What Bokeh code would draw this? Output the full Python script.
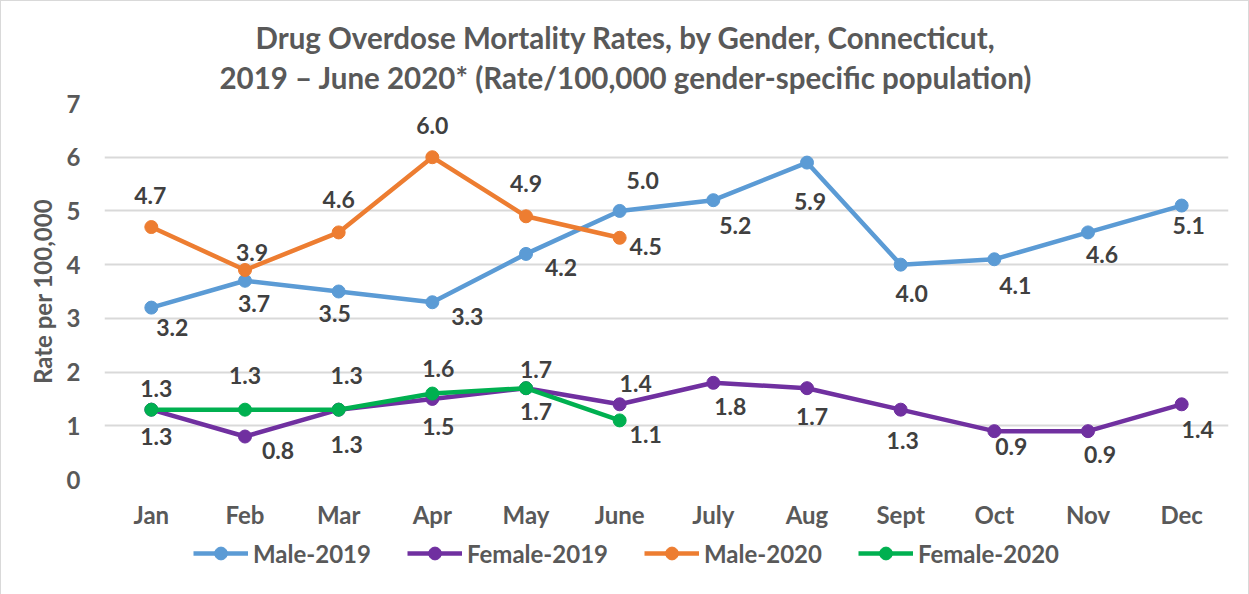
from bokeh.plotting import figure
from bokeh.layouts import column
from bokeh.models import (ColumnDataSource, FactorRange, Range1d, FixedTicker,
                          Legend, LegendItem, Title)
from bokeh.core.properties import value
from bokeh.embed import file_html
from bokeh.resources import INLINE

# ---------------- data ----------------
months = ["Jan", "Feb", "Mar", "Apr", "May", "June", "July", "Aug", "Sept", "Oct", "Nov", "Dec"]
male_2019 = [3.2, 3.7, 3.5, 3.3, 4.2, 5.0, 5.2, 5.9, 4.0, 4.1, 4.6, 5.1]
female_2019 = [1.3, 0.8, 1.3, 1.5, 1.7, 1.4, 1.8, 1.7, 1.3, 0.9, 0.9, 1.4]
male_2020 = [4.7, 3.9, 4.6, 6.0, 4.9, 4.5]
female_2020 = [1.3, 1.3, 1.3, 1.6, 1.7, 1.1]
y_ticks = [0, 1, 2, 3, 4, 5, 6, 7]
title_line1 = "Drug Overdose Mortality Rates, by Gender, Connecticut,"
title_line2 = "2019 \u2013 June 2020* (Rate/100,000 gender-specific population)"
y_label = "Rate per 100,000"

# data-label nudges (screen pixels, +dy = downwards)
male_2019_dx = [21, 9, -4, 35, 35, 23, 22, 3, 11, 21, 14, 7]
male_2019_dy = [20, 23, 22, 14, 14, -30, 25, 39, 29, 26, 22, 20]
female_2019_dx = [5, 33, 8, 6, 10, 16, 17, 5, 2, 17, 12, 16]
female_2019_dy = [27, 14, 35, 28, 23, -21, 24, 28, 31, 15, 23, 25]
male_2020_dx = [-1, 7, 0, 0, 0, 26]
male_2020_dy = [-32, -18, -33, -32, -33, 9]
female_2020_dx = [5, 0, 8, 6, 10, 26]
female_2020_dy = [-21, -34, -34, -25, -19, 14]

FONT = "Lato"
GRAY = "#595959"
DARK = "#404040"

series = [
    ("Male-2019", male_2019, male_2019_dx, male_2019_dy, "#5B9BD5"),
    ("Female-2019", female_2019, female_2019_dx, female_2019_dy, "#7030A0"),
    ("Male-2020", male_2020, male_2020_dx, male_2020_dy, "#ED7D31"),
    ("Female-2020", female_2020, female_2020_dx, female_2020_dy, "#00B050"),
]

# ---------------- main chart ----------------
p = figure(width=1247, height=526, frame_width=1124, frame_height=376,
           x_range=FactorRange(factors=months), y_range=Range1d(0, 7),
           output_backend="svg", toolbar_location=None,
           min_border_left=103, min_border_right=20, min_border_top=102, min_border_bottom=48)
p.outline_line_color = None
p.background_fill_color = "white"
p.border_fill_color = "white"

p.xgrid.grid_line_color = None
p.ygrid.grid_line_color = "#d9d9d9"
p.ygrid.grid_line_width = 2
p.yaxis.ticker = FixedTicker(ticks=y_ticks)

for ax in (p.xaxis[0], p.yaxis[0]):
    ax.axis_line_color = None
    ax.major_tick_line_color = None
    ax.minor_tick_line_color = None
    ax.major_label_text_font = FONT
    ax.major_label_text_font_style = "bold"
    ax.major_label_text_font_size = "24px"
    ax.major_label_text_color = GRAY
p.xaxis.major_label_standoff = 14
p.yaxis.major_label_standoff = 18
p.yaxis.axis_label = y_label
p.yaxis.axis_label_text_font = FONT
p.yaxis.axis_label_text_font_style = "bold"
p.yaxis.axis_label_text_font_size = "24px"
p.yaxis.axis_label_text_color = GRAY
p.yaxis.axis_label_standoff = 7

for name, vals, dx, dy, color in series:
    src = ColumnDataSource(dict(x=months[:len(vals)], y=vals))
    p.line("x", "y", source=src, line_color=color, line_width=4.5)
    p.scatter("x", "y", source=src, size=13, fill_color=color, line_color=color)

for name, vals, dx, dy, color in series:
    src = ColumnDataSource(dict(x=months[:len(vals)], y=vals,
                                t=[f"{v:.1f}" for v in vals], dx=dx, dy=dy))
    p.text("x", "y", text="t", source=src, x_offset="dx", y_offset="dy",
           text_align="center", text_baseline="middle",
           text_font=value(FONT), text_font_style="bold", text_font_size="23px",
           text_color=DARK)

TS = "29.5px"
t2 = Title(text=title_line2, align="left", offset=115, standoff=17, text_font=FONT,
           text_font_style="bold", text_font_size=TS, text_color=GRAY)
t1 = Title(text=title_line1, align="left", offset=151, standoff=-10, text_font=FONT,
           text_font_style="bold", text_font_size=TS, text_color=GRAY)
p.add_layout(t2, "above")
p.add_layout(t1, "above")

# ---------------- legend strip ----------------
q = figure(width=1247, height=66, x_range=FactorRange(factors=months), y_range=Range1d(-10, -9),
           x_axis_location=None, y_axis_location=None, min_border=0,
           output_backend="svg", toolbar_location=None)
q.grid.visible = False
q.outline_line_color = None
q.background_fill_color = "white"
q.border_fill_color = "white"

items = []
for name, vals, dx, dy, color in series:
    src = ColumnDataSource(dict(x=months[:len(vals)], y=vals))
    ln = q.line("x", "y", source=src, line_color=color, line_width=4.5)
    sc = q.scatter("x", "y", source=src, size=13, fill_color=color, line_color=color)
    items.append(LegendItem(label=name, renderers=[ln, sc]))

legend = Legend(items=items, orientation="horizontal", location="top_left",
                title=" ", title_location="left", title_text_font_size="2px",
                title_standoff=81,
                label_text_font=FONT, label_text_font_style="bold",
                label_text_font_size="24px", label_text_color=GRAY,
                glyph_width=55, glyph_height=32, label_standoff=5, spacing=36,
                padding=5, margin=6, border_line_color=None, background_fill_alpha=0)
q.add_layout(legend, "center")

layout = column(p, q, spacing=0, styles={"border": "1px solid #d9d9d9"})

open("out.html", "w").write(file_html(layout, INLINE))
